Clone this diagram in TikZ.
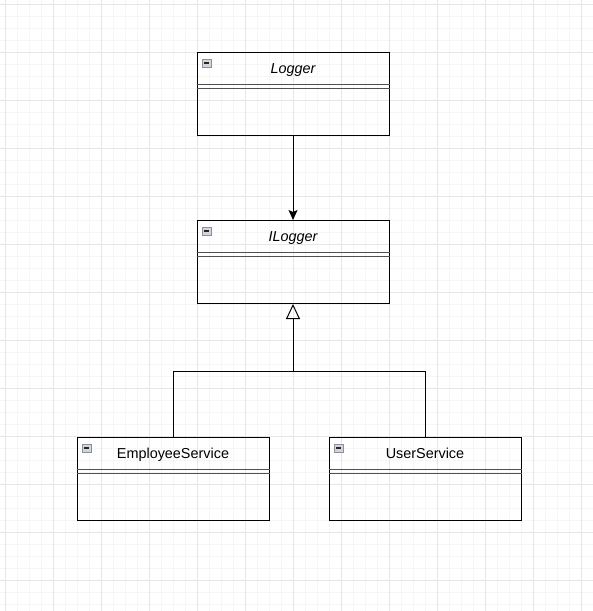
\documentclass[tikz,border=0pt]{standalone}
\usepackage{fontspec}
\setmainfont{Liberation Sans}
\usetikzlibrary{positioning,calc,arrows.meta}

\definecolor{gridmajor}{HTML}{E6E6E6}
\definecolor{gridminor}{HTML}{F6F6F6}
\definecolor{iconfill}{HTML}{D2D5DB}
\definecolor{iconedge}{HTML}{8C9099}
\definecolor{sepline}{HTML}{505050}

\tikzset{
  umlclass/.style={draw,line width=1pt,rectangle,anchor=north,
    minimum width=192pt,minimum height=83pt,inner sep=0pt},
  umltitle/.style={anchor=base,font=\fontsize{14.4}{17}\selectfont},
  umlicon/.style={draw=iconedge,fill=iconfill,minimum size=8.5pt,inner sep=0pt,
    path picture={\draw[line width=1.5pt,black!85]
      ($(path picture bounding box.west)+(1.8,0)$) -- ($(path picture bounding box.east)+(-1.8,0)$);}},
  link/.style={line width=1pt}
}

\begin{document}
\begin{tikzpicture}[x=1pt,y=-1pt]
\useasboundingbox[fill=white] (0,0) rectangle (593,611);
% background grid
\foreach \x in {5,17,...,593} \draw[gridminor,line width=0.7pt] (\x,0) -- (\x,611);
\foreach \y in {4,16,...,611} \draw[gridminor,line width=0.7pt] (0,\y) -- (593,\y);
\foreach \x in {5,53,...,593} \draw[gridmajor,line width=0.7pt] (\x,0) -- (\x,611);
\foreach \y in {4,52,...,611} \draw[gridmajor,line width=0.7pt] (0,\y) -- (593,\y);

% classes
\node[umlclass] (logger) at (293,52) {};
\node[umlclass] (ilogger) at (293,220) {};
\node[umlclass] (empservice) at (173,437) {};
\node[umlclass] (userservice) at (425,437) {};

\node[umltitle,font=\fontsize{14.4}{17}\selectfont\itshape] (loggerT) at ($(logger.north)+(0,21.5)$) {Logger};
\node[umltitle,font=\fontsize{14.4}{17}\selectfont\itshape] (iloggerT) at ($(ilogger.north)+(0,21.5)$) {ILogger};
\node[umltitle] (empserviceT) at ($(empservice.north)+(0,21.5)$) {EmployeeService};
\node[umltitle] (userserviceT) at ($(userservice.north)+(0,21.5)$) {UserService};

\foreach \c in {logger,ilogger,empservice,userservice}{
  \node[umlicon] (\c I) at ($(\c.north west)+(10,11)$) {};
  \draw[sepline,line width=1pt] ($(\c.north west)+(0,32)$) -- ($(\c.north east)+(0,32)$);
  \draw[sepline,line width=1pt] ($(\c.north west)+(0,36)$) -- ($(\c.north east)+(0,36)$);
}

% connectors
\draw[link,-{Stealth[length=10pt,width=9pt,inset=2pt]}] (logger.south) -- (ilogger.north);
\coordinate (split) at ($(ilogger.south)+(0,67)$);
\draw[link] (empservice.north) |- (split);
\draw[link] (userservice.north) |- (split);
\draw[link,-{Triangle[open,length=15pt,width=14pt]}] (split) -- (ilogger.south);
\end{tikzpicture}
\end{document}
